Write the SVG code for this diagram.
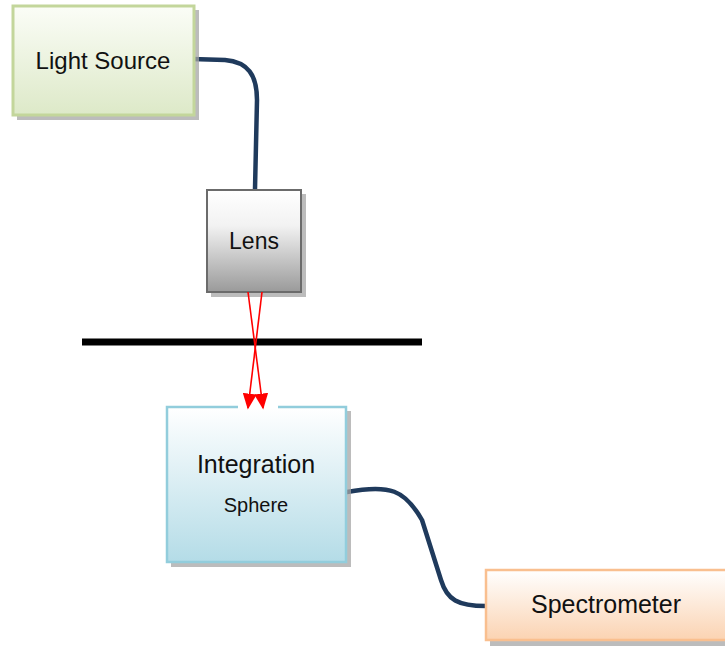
<svg xmlns="http://www.w3.org/2000/svg" width="725" height="646" viewBox="0 0 725 646">
<defs>
<linearGradient id="gGreen" x1="0" y1="0" x2="0" y2="1"><stop offset="0" stop-color="#fbfdf7"/><stop offset="1" stop-color="#dde9c8"/></linearGradient>
<linearGradient id="gGray" x1="0" y1="0" x2="0" y2="1"><stop offset="0" stop-color="#ffffff"/><stop offset="0.35" stop-color="#f2f2f2"/><stop offset="1" stop-color="#9a9a9a"/></linearGradient>
<linearGradient id="gBlue" x1="0" y1="0" x2="0" y2="1"><stop offset="0" stop-color="#ffffff"/><stop offset="1" stop-color="#b4dce7"/></linearGradient>
<linearGradient id="gOrange" x1="0" y1="0" x2="0" y2="1"><stop offset="0" stop-color="#ffffff"/><stop offset="1" stop-color="#fbd3b2"/></linearGradient>
<marker id="arrRed" viewBox="0 0 10 10" refX="9" refY="5" markerWidth="16" markerHeight="14" markerUnits="userSpaceOnUse" orient="auto" preserveAspectRatio="none"><path d="M0,0 L10,5 L0,10 z" fill="#ff0000"/></marker>
</defs>
<style>
.shadow{fill:#a5a5a5;opacity:0.75}
.lbl{font-family:"Liberation Sans",Arial,sans-serif;fill:#111111;text-anchor:middle}
.fiber{fill:none;stroke:#1f3a5c;stroke-width:4.5;stroke-linecap:round}
.ray{fill:none;stroke:#ff0000;stroke-width:1.6}
</style>
<rect width="725" height="646" fill="#ffffff"/>

<g id="connectors">
<path class="fiber" d="M192,59 L225,60 C248,62 257,75 257,100 L255,189"/>
<path class="fiber" d="M347,492 C390,484 405,490 422,520 L441,580 C447,600 458,606 486,606"/>
<line x1="82" y1="342" x2="422" y2="342" stroke="#000000" stroke-width="7"/>
</g>

<g id="light-source">
<rect class="shadow" x="17" y="10" width="182" height="110"/>
<rect x="13" y="6" width="181" height="109" fill="url(#gGreen)" stroke="#c3d69b" stroke-width="3"/>
<text class="lbl" x="103" y="69" font-size="24">Light Source</text>
</g>

<g id="lens">
<rect class="shadow" x="211" y="194" width="95" height="103"/>
<rect x="207" y="190" width="94" height="102" fill="url(#gGray)" stroke="#6b6b6b" stroke-width="2"/>
<text class="lbl" x="254" y="249" font-size="23">Lens</text>
</g>

<g id="integration-sphere">
<rect class="shadow" x="171" y="411" width="180" height="156"/>
<rect x="167" y="407" width="179" height="155" fill="url(#gBlue)" stroke="#92cddc" stroke-width="2.5"/>
<line x1="238" y1="407" x2="278" y2="407" stroke="#ffffff" stroke-width="4"/>
<text class="lbl" x="256" y="473" font-size="25">Integration</text>
<text class="lbl" x="256" y="512" font-size="20">Sphere</text>
</g>

<g id="spectrometer">
<rect class="shadow" x="490" y="575" width="250" height="71"/>
<rect x="486" y="570" width="250" height="70" fill="url(#gOrange)" stroke="#f9bf8f" stroke-width="2.5"/>
<text class="lbl" x="606" y="613" font-size="25">Spectrometer</text>
</g>

<g id="rays">
<line class="ray" x1="248" y1="292" x2="263" y2="408" marker-end="url(#arrRed)"/>
<line class="ray" x1="262" y1="292" x2="248" y2="408" marker-end="url(#arrRed)"/>
</g>
</svg>
